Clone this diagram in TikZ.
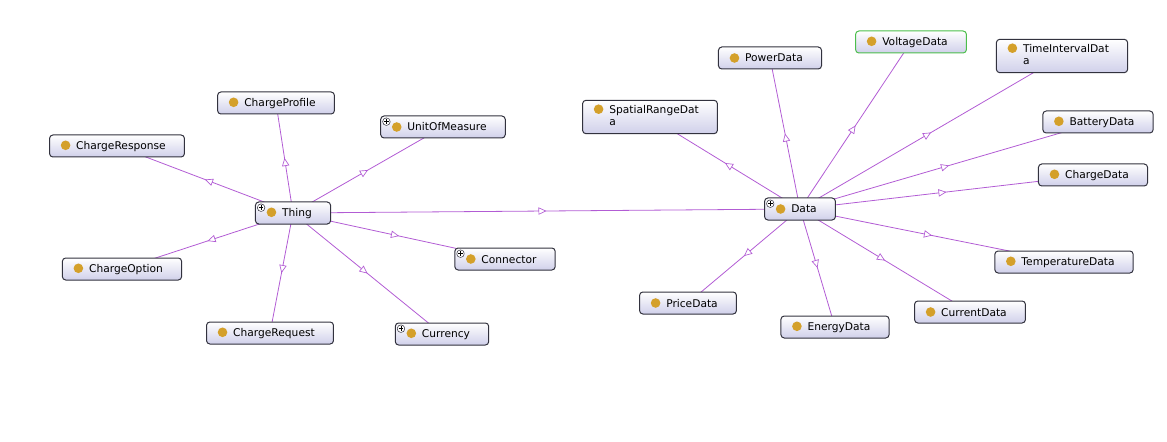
\documentclass[tikz,border=0pt]{standalone}
\usepackage{fontspec}
\setmainfont{DejaVu Sans}
\usepackage{xcolor}
\usepackage{tikz}
\usetikzlibrary{arrows.meta, decorations.markings, backgrounds}

\definecolor{edgecol}{RGB}{178,92,212}
\definecolor{dotcol}{RGB}{212,160,42}
\definecolor{boxline}{RGB}{50,50,62}
\definecolor{boxfill}{RGB}{208,208,234}
\definecolor{selline}{RGB}{76,190,76}

\newcommand{\classdot}{\tikz[x=1cm,y=1cm,baseline=-3pt]\fill[dotcol] (0,0) circle (3.6pt);}
\newcommand{\twoline}[2]{\begin{tabular}[t]{@{}l@{}}#1\\#2\end{tabular}}

\begin{document}
\begin{tikzpicture}[
  x=0.75pt, y=-0.75pt,
  cls/.style={rectangle, draw=boxline, line width=0.75pt, rounded corners=2.5pt, top color=white,
    bottom color=boxfill, minimum height=16.5pt, inner xsep=4pt, inner ysep=3pt,
    font=\fontsize{8}{9.5}\selectfont,
    execute at begin node={\hspace{4.4pt}\classdot\hspace{4.4pt}},
    execute at end node={\hspace{10pt}}},
  selected/.style={draw=selline},
  expandable/.style={path picture={
    \draw[boxline, fill=white, line width=0.4pt]
      ([shift={(1.5pt,-1.5pt)}]path picture bounding box.north west) rectangle ++(5.5pt,-5.5pt);
    \draw[black, line width=0.5pt]
      ([shift={(4.25pt,-2.5pt)}]path picture bounding box.north west) -- ++(0pt,-3.5pt)
      ([shift={(2.5pt,-4.25pt)}]path picture bounding box.north west) -- ++(3.5pt,0pt);
  }},
  edge/.style={draw=edgecol, line width=0.6pt, postaction={decorate},
    decoration={markings, mark=at position 0.5 with
      {\arrow{Triangle[length=6pt, width=5.5pt, fill=white, line width=0.5pt]}}}},
]
\useasboundingbox (0,0) rectangle (1167,442);

\node[cls, expandable] (thing) at (293,213) {Thing};
\node[cls] (chargeprofile) at (276,103) {ChargeProfile};
\node[cls] (chargeresponse) at (117,146) {ChargeResponse};
\node[cls, expandable] (unitofmeasure) at (443,127) {UnitOfMeasure};
\node[cls] (chargeoption) at (122,269) {ChargeOption};
\node[cls] (chargerequest) at (270,333) {ChargeRequest};
\node[cls, expandable] (currency) at (442,334) {Currency};
\node[cls, expandable] (connector) at (505,259) {Connector};

\node[cls, expandable] (data) at (800,209) {Data};
\node[cls] (spatialrangedata) at (650,117) {\twoline{SpatialRangeDat}{a}};
\node[cls] (powerdata) at (770,58) {PowerData};
\node[cls, selected] (voltagedata) at (911,42) {VoltageData};
\node[cls] (timeintervaldata) at (1062,56) {\twoline{TimeIntervalDat}{a}};
\node[cls] (batterydata) at (1098,122) {BatteryData};
\node[cls] (chargedata) at (1093,175) {ChargeData};
\node[cls] (temperaturedata) at (1064,262) {TemperatureData};
\node[cls] (currentdata) at (970,312) {CurrentData};
\node[cls] (energydata) at (835,327) {EnergyData};
\node[cls] (pricedata) at (688,303) {PriceData};

\begin{scope}[on background layer]
\draw[edge] (thing.center) -- (data.center);
\draw[edge] (thing.center) -- (chargeprofile.center);
\draw[edge] (thing.center) -- (chargeresponse.center);
\draw[edge] (thing.center) -- (unitofmeasure.center);
\draw[edge] (thing.center) -- (chargeoption.center);
\draw[edge] (thing.center) -- (chargerequest.center);
\draw[edge] (thing.center) -- (currency.center);
\draw[edge] (thing.center) -- (connector.center);

\draw[edge] (data.center) -- (spatialrangedata.center);
\draw[edge] (data.center) -- (powerdata.center);
\draw[edge] (data.center) -- (voltagedata.center);
\draw[edge] (data.center) -- (timeintervaldata.center);
\draw[edge] (data.center) -- (batterydata.center);
\draw[edge] (data.center) -- (chargedata.center);
\draw[edge] (data.center) -- (temperaturedata.center);
\draw[edge] (data.center) -- (currentdata.center);
\draw[edge] (data.center) -- (energydata.center);
\draw[edge] (data.center) -- (pricedata.center);
\end{scope}

\end{tikzpicture}
\end{document}
